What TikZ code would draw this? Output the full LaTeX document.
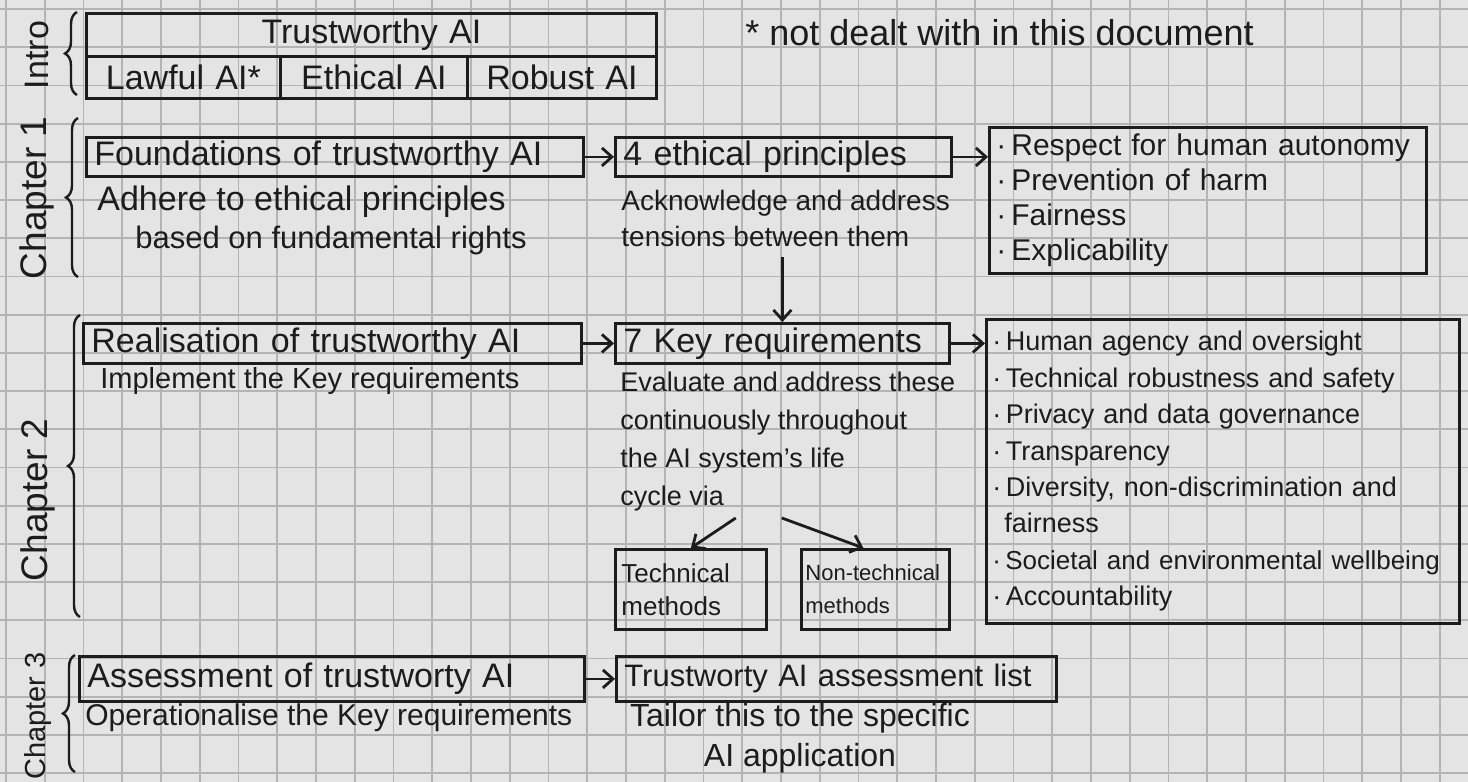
\documentclass[tikz,border=0pt]{standalone}
\usepackage{fontspec}
\setmainfont{Liberation Sans}
\usetikzlibrary{arrows.meta,positioning,decorations.pathreplacing}

\definecolor{paper}{HTML}{E4E4E4}
\definecolor{gridc}{HTML}{B4B4B4}
\definecolor{ink}{HTML}{1C1C1C}
\newcommand{\setfs}[2]{\fontsize{#1}{#2}\selectfont}

\begin{document}
\begin{tikzpicture}[x=0.5pt,y=-0.5pt,>={Straight Barb[length=5pt,width=9pt]},
 box/.style={draw=ink,line width=1.4pt,anchor=north west,inner xsep=4pt,inner ysep=0pt,align=left,text=ink},
 txt/.style={inner sep=0pt,text=ink},
 arr/.style={->,draw=ink,line width=1.4pt},
 brc/.style={decorate,decoration={brace,amplitude=6pt},draw=ink,line width=1.2pt},
 fL/.style={font=\setfs{17}{20}},
 fM/.style={font=\setfs{15}{17.5}},
 fS/.style={font=\setfs{13.5}{19}}]
\useasboundingbox (0,0) rectangle (1468,782);
\fill[paper] (0,0) rectangle (1468,782);
\foreach \i in {0,...,37} \draw[gridc,line width=0.9pt] ({6+38.75*\i},0) -- ++(0,782);
\foreach \j in {0,...,20} \draw[gridc,line width=0.9pt] (0,{9+38.2*\j}) -- ++(1468,0);

% intro
\node[txt,fL,rotate=90] (lint) at (37,55) {Intro};
\draw[brc] (77,95) -- (77,12);
\node[box,fL,align=center,text width=277pt,minimum height=21.5pt] (tai) at (85,12) {Trustworthy AI};
\node[box,fL,align=center,text width=89pt,minimum height=21pt] (law) at (85,55) {Lawful AI*};
\node[box,fL,align=center,text width=85.5pt,minimum height=21pt] (etha) at (279,55) {Ethical AI};
\node[box,fL,align=center,text width=86.5pt,minimum height=21pt] (rob) at (466,55) {Robust AI};
\node[txt,font=\setfs{18}{20},anchor=base west] (note) at (745,45) {* not dealt with in this document};

% chapter 1
\node[txt,font=\setfs{18.5}{20},rotate=90] (lch1) at (37,198) {Chapter 1};
\draw[brc] (78,277) -- (78,118);
\node[box,fL,text width=240.5pt,minimum height=19.5pt] (found) at (85,136) {Foundations of trustworthy AI};
\node[box,fL,text width=160pt,minimum height=19.5pt] (eth) at (614,136) {4 ethical principles};
\node[box,fM,inner xsep=3.5pt,text width=211.5pt,minimum height=73pt] (plist) at (988,126)
 {·\,Respect for human autonomy\\ ·\,Prevention of harm\\ ·\,Fairness\\ ·\,Explicability};
\node[txt,fL,anchor=base west] (adh) at (97,210) {Adhere to ethical principles};
\node[txt,font=\setfs{15.5}{18},anchor=base west] (bas) at (135,248) {based on fundamental rights};
\node[txt,font=\setfs{14}{18},anchor=north west,align=left] (ack) at (621,190) {Acknowledge and address\\tensions between them};
\draw[arr] (found) -- (eth);
\draw[arr] (eth.east) -- (eth.east -| plist.west);

% chapter 2
\node[txt,font=\setfs{18.5}{20},rotate=90] (lch2) at (38,500) {Chapter 2};
\draw[brc] (80,617) -- (80,315);
\node[box,fL,text width=241pt,minimum height=20pt] (real) at (82,322) {Realisation of trustworthy AI};
\node[box,fL,text width=159pt,minimum height=20pt] (key7) at (614,322) {7 Key requirements};
\node[box,font=\setfs{13.5}{18.2},inner xsep=3pt,text width=230.5pt,minimum height=152pt] (rlist) at (985,318)
 {·\,Human agency and oversight\\ ·\,Technical robustness and safety\\ ·\,Privacy and data governance\\ ·\,Transparency\\
  ·\,Diversity, non-discrimination and\\ \hspace*{6pt}fairness\\ {\setfs{13}{18.2}·\,Societal and environmental wellbeing}\\ ·\,Accountability};
\node[txt,font=\setfs{14.5}{18},anchor=base west] (impl) at (100,388) {Implement the Key requirements};
\node[txt,fS,anchor=north west,align=left] (eval) at (620,372)
 {Evaluate and address these\\continuously throughout\\the AI system's life\\cycle via};
\node[box,font=\setfs{13}{16.5},inner xsep=3pt,text width=69.5pt,minimum height=40pt] (tech) at (614,548) {Technical\\methods};
\node[box,font=\setfs{11}{16.5},inner xsep=2pt,text width=70pt,minimum height=40pt] (nont) at (800,548) {Non-technical\\methods};
\draw[arr] ([yshift=-5pt]ack.south -| key7.north) -- (key7.north);
\draw[arr] (real) -- (key7);
\draw[arr] (key7.east) -- (key7.east -| rlist.west);
\draw[arr] ([xshift=-26pt,yshift=-3pt]eval.south) -- (tech.north);
\draw[arr] ([xshift=-3pt,yshift=-3pt]eval.south) -- ([xshift=-6pt]nont.north);

% chapter 3
\node[txt,font=\setfs{14.5}{16},rotate=90] (lch3) at (38,716) {Chapter 3};
\draw[brc] (75,772) -- (75,655);
\node[box,fL,text width=244.5pt,minimum height=22.5pt] (assess) at (78,655) {Assessment of trustworty AI};
\node[box,font=\setfs{15.5}{18},text width=212pt,minimum height=22.5pt] (alist) at (615,655) {Trustworty AI assessment list};
\node[txt,font=\setfs{15}{18},anchor=base west] (oper) at (85,725) {Operationalise the Key requirements};
\node[txt,font=\setfs{16}{20},anchor=north,align=center] (tail) at (800,703) {Tailor this to the specific\\AI application};
\draw[arr] (assess) -- (alist);
\end{tikzpicture}
\end{document}
